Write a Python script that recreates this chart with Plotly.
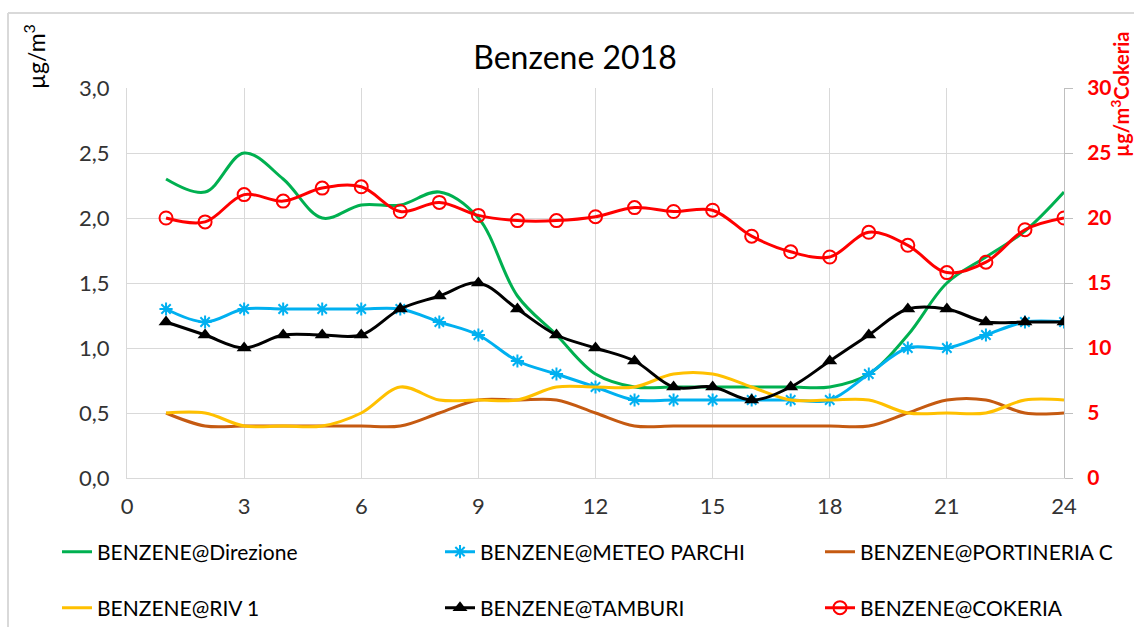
import plotly.graph_objects as go

hours = list(range(1, 25))
direzione = [2.3, 2.2, 2.5, 2.3, 2.0, 2.1, 2.1, 2.2, 2.0, 1.4, 1.1, 0.8, 0.7, 0.7, 0.7, 0.7, 0.7, 0.7, 0.8, 1.1, 1.5, 1.7, 1.9, 2.2]
meteo_parchi = [1.3, 1.2, 1.3, 1.3, 1.3, 1.3, 1.3, 1.2, 1.1, 0.9, 0.8, 0.7, 0.6, 0.6, 0.6, 0.6, 0.6, 0.6, 0.8, 1.0, 1.0, 1.1, 1.2, 1.2]
portineria_c = [0.5, 0.4, 0.4, 0.4, 0.4, 0.4, 0.4, 0.5, 0.6, 0.6, 0.6, 0.5, 0.4, 0.4, 0.4, 0.4, 0.4, 0.4, 0.4, 0.5, 0.6, 0.6, 0.5, 0.5]
riv1 = [0.5, 0.5, 0.4, 0.4, 0.4, 0.5, 0.7, 0.6, 0.6, 0.6, 0.7, 0.7, 0.7, 0.8, 0.8, 0.7, 0.6, 0.6, 0.6, 0.5, 0.5, 0.5, 0.6, 0.6]
tamburi = [1.2, 1.1, 1.0, 1.1, 1.1, 1.1, 1.3, 1.4, 1.5, 1.3, 1.1, 1.0, 0.9, 0.7, 0.7, 0.6, 0.7, 0.9, 1.1, 1.3, 1.3, 1.2, 1.2, 1.2]
cokeria = [20.0, 19.7, 21.8, 21.3, 22.3, 22.4, 20.5, 21.2, 20.2, 19.8, 19.8, 20.1, 20.8, 20.5, 20.6, 18.6, 17.4, 17.0, 18.9, 17.9, 15.8, 16.6, 19.1, 20.0]

FONT = "Lato"
LW = 3

# plot area in px: x 127..1064, y 88..478
L, R, T, B = 127, 1064, 88, 478
W, H = 1134, 627
def px(x):
    return (x - L) / (R - L)
def py(y):
    return (B - y) / (B - T)

fig = go.Figure()

legend_names = ["legend", "legend2", "legend3", "legend4", "legend5", "legend6"]
# text start x and row centre y for each legend entry
legend_pos = [(97, 552), (480, 552), (860, 552), (97, 608), (480, 608), (860, 608)]

def add(i, name, y, color, marker=None, yaxis="y"):
    kw = dict(x=hours, y=y, name=name, legend=legend_names[i], yaxis=yaxis,
              line=dict(color=color, width=LW, shape="spline", smoothing=1))
    if marker:
        kw["mode"] = "lines+markers"
        kw["marker"] = marker
    else:
        kw["mode"] = "lines"
    fig.add_trace(go.Scatter(**kw))

add(0, "BENZENE@Direzione", direzione, "#00B050")
add(1, "BENZENE@METEO PARCHI", meteo_parchi, "#00B0F0",
    marker=dict(symbol="asterisk-open", size=11, line=dict(color="#00B0F0", width=2)))
add(2, "BENZENE@PORTINERIA C", portineria_c, "#C55A11")
add(3, "BENZENE@RIV 1", riv1, "#FFC000")
add(4, "BENZENE@TAMBURI", tamburi, "#000000",
    marker=dict(symbol="triangle-up", size=13, color="#000000"))
add(5, "BENZENE@COKERIA", cokeria, "#FF0000",
    marker=dict(symbol="circle-open", size=13, line=dict(color="#FF0000", width=2)),
    yaxis="y2")

layout_legends = {}
for name, (tx, ty) in zip(legend_names, legend_pos):
    layout_legends[name] = dict(
        x=px(tx - 40), y=py(ty), xanchor="left", yanchor="middle",
        orientation="h", bgcolor="rgba(0,0,0,0)",
        font=dict(family=FONT, size=21, color="#000000"))

fig.update_layout(
    width=W, height=H,
    margin=dict(l=L, r=W - R, t=T, b=H - B, autoexpand=False),
    paper_bgcolor="white", plot_bgcolor="white",
    separators=",.",
    title=dict(text="Benzene 2018", x=575 / W, xref="container", xanchor="center",
               y=1 - 58 / H, yref="container", yanchor="middle",
               font=dict(family=FONT, size=32, color="#000000")),
    xaxis=dict(range=[0, 24], dtick=3, tick0=0, showgrid=True, gridcolor="#d9d9d9", gridwidth=1,
               showline=True, linecolor="#d9d9d9", linewidth=1, zeroline=False, ticks="",
               ticklabelstandoff=9,
               tickfont=dict(family=FONT, size=22, color="#333333")),
    yaxis=dict(range=[0, 3], dtick=0.5, tick0=0, tickformat=".1f", showgrid=True,
               gridcolor="#d9d9d9", gridwidth=1, showline=True, linecolor="#d9d9d9",
               zeroline=False, ticks="", ticklabelstandoff=12,
               tickfont=dict(family=FONT, size=22, color="#333333")),
    yaxis2=dict(range=[0, 30], dtick=5, tick0=0, overlaying="y", side="right",
                showgrid=False, zeroline=False, showline=True, linecolor="#bfbfbf",
                ticks="outside", ticklen=8, tickcolor="#bfbfbf", ticklabelstandoff=10,
                tickfont=dict(family=FONT, size=21, color="#FF0000", weight="bold")),
    showlegend=True,
    **layout_legends,
)

fig.add_annotation(text="µg/m<sup>3</sup>", xref="paper", yref="paper",
                   x=px(34), y=py(57), textangle=-90, showarrow=False,
                   xanchor="center", yanchor="middle",
                   font=dict(family=FONT, size=23, color="#000000"))
fig.add_annotation(text="µg/m<sup>3</sup>Cokeria", xref="paper", yref="paper",
                   x=px(1120), y=py(95), textangle=-90, showarrow=False,
                   xanchor="center", yanchor="middle",
                   font=dict(family=FONT, size=20, color="#FF0000", weight="bold"))

# chart border (top and left edges visible)
fig.add_shape(type="line", xref="paper", yref="paper", x0=px(8), x1=px(1140), y0=py(13), y1=py(13),
              line=dict(color="#d9d9d9", width=2))
fig.add_shape(type="line", xref="paper", yref="paper", x0=px(8), x1=px(8), y0=py(13), y1=py(640),
              line=dict(color="#d9d9d9", width=2))

fig.write_html("out.html", config={"displayModeBar": False},
               post_script="document.body.style.margin='0';")
